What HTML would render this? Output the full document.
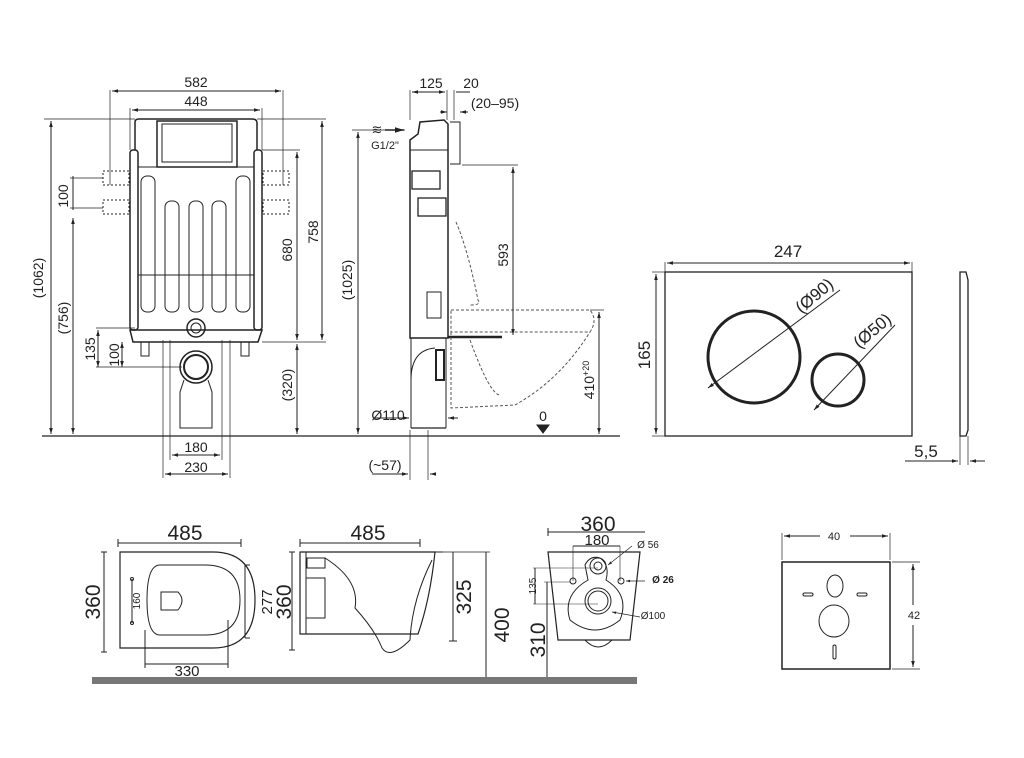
<!DOCTYPE html>
<html><head><meta charset="utf-8"><style>
html,body{margin:0;padding:0;background:#fff;}
svg{display:block;}
text{font-family:"Liberation Sans",sans-serif;fill:#222;}
</style></head><body>
<svg width="1024" height="758" viewBox="0 0 1024 758" xmlns="http://www.w3.org/2000/svg">
<defs>
<marker id="a" viewBox="0 0 10 10" refX="10" refY="5" markerWidth="6" markerHeight="6" orient="auto-start-reverse"><path d="M0,2 L10,5 L0,8z" fill="#222"/></marker>
</defs>
<g stroke="#222" fill="none" stroke-width="1">
<line x1="42" y1="436" x2="620" y2="436" stroke-width="1.3"/>

<path d="M135,150 L135,122 Q135,119 139,119 L252,119 Q257,119 257,123 L257,150" stroke-width="1.5"/>
<rect x="130" y="150" width="8" height="180" rx="3" stroke-width="1.5"/>
<rect x="254" y="150" width="8" height="180" rx="3" stroke-width="1.5"/>
<path d="M130,330 L262,330 L258,342 L133,342 Z" stroke-width="1.5"/>
<rect x="157" y="121" width="80" height="46" stroke-width="1.5"/>
<rect x="162" y="124" width="70" height="38"/>
<line x1="138" y1="167" x2="254" y2="167"/>
<rect x="141" y="176" width="14" height="136" rx="6"/>
<rect x="236" y="176" width="14" height="136" rx="6"/>
<rect x="165" y="201" width="14" height="111" rx="6"/>
<rect x="189" y="201" width="14" height="111" rx="6"/>
<rect x="212" y="201" width="14" height="111" rx="6"/>
<line x1="138" y1="275" x2="254" y2="275"/>
<rect x="141" y="342" width="8" height="14"/>
<rect x="241" y="342" width="8" height="14"/>
<circle cx="196" cy="328" r="9" stroke-width="1.5"/><circle cx="196" cy="328" r="5"/>
<circle cx="196" cy="367" r="16" stroke-width="1.5"/><circle cx="196" cy="367" r="12" stroke-width="2"/>
<path d="M184,380 L180,392 L180,428 L212,428 L212,392 L208,380"/>
<g stroke-dasharray="2,2">
<rect x="103" y="171" width="26" height="14"/><rect x="103" y="200" width="26" height="14"/>
<rect x="263" y="171" width="26" height="14"/><rect x="263" y="200" width="26" height="14"/>
</g>
<line x1="110" y1="90" x2="110" y2="185" stroke-width="0.7"/><line x1="283" y1="90" x2="283" y2="185" stroke-width="0.7"/>
<line x1="112" y1="91" x2="281" y2="91" marker-start="url(#a)" marker-end="url(#a)"/>
<line x1="130" y1="108" x2="130" y2="150" stroke-width="0.7"/><line x1="262" y1="108" x2="262" y2="150" stroke-width="0.7"/>
<line x1="132" y1="110" x2="260" y2="110" marker-start="url(#a)" marker-end="url(#a)"/>
<line x1="44" y1="119" x2="135" y2="119" stroke-width="0.7"/>
<line x1="51" y1="121" x2="51" y2="434" marker-start="url(#a)" marker-end="url(#a)"/>
<line x1="73" y1="218" x2="73" y2="434" marker-start="url(#a)" marker-end="url(#a)"/>
<line x1="73" y1="176" x2="73" y2="210"/>
<line x1="70" y1="178" x2="103" y2="178" stroke-width="0.7"/><line x1="70" y1="208" x2="103" y2="208" stroke-width="0.7"/>
<line x1="98" y1="330" x2="98" y2="367" marker-start="url(#a)" marker-end="url(#a)"/>
<line x1="122" y1="342" x2="122" y2="367" marker-start="url(#a)" marker-end="url(#a)"/>
<line x1="96" y1="328" x2="135" y2="328" stroke-width="0.7"/><line x1="96" y1="367" x2="182" y2="367" stroke-width="0.7"/>
<line x1="262" y1="150" x2="300" y2="150" stroke-width="0.7"/><line x1="257" y1="119" x2="326" y2="119" stroke-width="0.7"/>
<line x1="262" y1="342" x2="326" y2="342" stroke-width="0.7"/>
<line x1="297" y1="152" x2="297" y2="340" marker-start="url(#a)" marker-end="url(#a)"/>
<line x1="322" y1="121" x2="322" y2="340" marker-start="url(#a)" marker-end="url(#a)"/>
<line x1="297" y1="344" x2="297" y2="434" marker-start="url(#a)" marker-end="url(#a)"/>
<line x1="170" y1="340" x2="170" y2="460" stroke-width="0.7"/><line x1="222" y1="340" x2="222" y2="460" stroke-width="0.7"/>
<line x1="163" y1="340" x2="163" y2="478" stroke-width="0.7"/><line x1="230" y1="340" x2="230" y2="478" stroke-width="0.7"/>
<line x1="172" y1="455" x2="220" y2="455" marker-start="url(#a)" marker-end="url(#a)"/>
<line x1="165" y1="474" x2="228" y2="474" marker-start="url(#a)" marker-end="url(#a)"/>

<line x1="358" y1="132" x2="358" y2="434" marker-start="url(#a)" marker-end="url(#a)"/>
<line x1="352" y1="130" x2="405" y2="130" stroke-width="0.7"/>
<path d="M410,150 L410,140 L418,134 L420,122 L444,120 L448,124 L448,338 L410,338 Z" stroke-width="1.5"/>
<line x1="410" y1="150" x2="448" y2="150"/>
<rect x="412" y="171" width="28" height="18" stroke-width="1.3"/>
<rect x="418" y="198" width="28" height="18" stroke-width="1.3"/>
<rect x="427" y="292" width="14" height="26"/>
<path d="M450,122 L460,122 L460,164 L450,164" />
<line x1="411" y1="338" x2="411" y2="428"/><line x1="446" y1="338" x2="446" y2="428"/>
<path d="M411,380 Q411,350 435,348"/>
<rect x="436" y="350" width="8" height="30" stroke-width="2"/>
<line x1="411" y1="428" x2="446" y2="428" stroke-width="1.3"/>
<line x1="448" y1="337" x2="502" y2="337" stroke-width="2.5"/>
<g stroke-dasharray="3,2" stroke="#555">
<path d="M456,222 Q468,250 478,300 Q482,305 470,305"/>
<path d="M451,310 L590,310 Q598,320 590,332 L451,332 Z"/>
<path d="M451,332 L451,408 L515,405 Q560,380 590,332"/>
<path d="M470,340 Q490,395 500,395"/>
</g>
<line x1="462" y1="165" x2="518" y2="165" stroke-width="0.7"/>
<line x1="513" y1="167" x2="513" y2="335" marker-start="url(#a)" marker-end="url(#a)"/>
<line x1="590" y1="310" x2="604" y2="310" stroke-width="0.7"/>
<line x1="599" y1="312" x2="599" y2="434" marker-start="url(#a)" marker-end="url(#a)"/>
<line x1="410" y1="90" x2="410" y2="120" stroke-width="0.7"/><line x1="447" y1="90" x2="447" y2="120" stroke-width="0.7"/><line x1="454" y1="90" x2="454" y2="120" stroke-width="0.7"/>
<line x1="412" y1="92" x2="445" y2="92" marker-start="url(#a)" marker-end="url(#a)"/>
<line x1="456" y1="92" x2="470" y2="92" />
<line x1="440" y1="112" x2="447" y2="112" marker-end="url(#a)"/>
<line x1="460" y1="112" x2="468" y2="112" marker-start="url(#a)"/>
<line x1="385" y1="130" x2="404" y2="130" marker-end="url(#a)" stroke-width="1.5"/>
<line x1="375" y1="418" x2="409" y2="418" marker-end="url(#a)"/>
<line x1="448" y1="418" x2="458" y2="418" marker-start="url(#a)"/>
<line x1="410" y1="430" x2="410" y2="480" stroke-width="0.7"/><line x1="428" y1="430" x2="428" y2="480" stroke-width="0.7"/>
<line x1="372" y1="474" x2="408" y2="474" marker-end="url(#a)"/>
<line x1="430" y1="474" x2="436" y2="474" marker-start="url(#a)"/>
<path d="M537,425 L549,425 L543,433 Z" fill="#222"/>

<rect x="665" y="272" width="247" height="164" stroke-width="1.3"/>
<circle cx="754" cy="357" r="46" stroke-width="3"/>
<circle cx="838" cy="380" r="26" stroke-width="3"/>
<line x1="708" y1="388" x2="840" y2="290" marker-start="url(#a)"/>
<line x1="814" y1="410" x2="895" y2="325" marker-start="url(#a)"/>
<line x1="665" y1="262" x2="665" y2="272" stroke-width="0.7"/><line x1="912" y1="262" x2="912" y2="272" stroke-width="0.7"/>
<line x1="667" y1="263" x2="910" y2="263" marker-start="url(#a)" marker-end="url(#a)"/>
<line x1="652" y1="272" x2="665" y2="272" stroke-width="0.7"/><line x1="652" y1="436" x2="665" y2="436" stroke-width="0.7"/>
<line x1="656" y1="274" x2="656" y2="434" marker-start="url(#a)" marker-end="url(#a)"/>
<path d="M960,272 L966,272 L968,280 L968,430 L966,436 L960,436 Z" stroke-width="1.3"/>
<line x1="960" y1="436" x2="960" y2="465" stroke-width="0.7"/><line x1="968" y1="436" x2="968" y2="465" stroke-width="0.7"/>
<line x1="905" y1="461" x2="958" y2="461" marker-end="url(#a)"/>
<line x1="970" y1="461" x2="985" y2="461" marker-start="url(#a)"/>

<path d="M120,552 L213,552 Q255,552 255,600 Q255,648 213,648 L120,648 Z" stroke-width="1.2"/>
<path d="M160,565 L205,565 Q240,565 240,600 Q240,635 205,635 L160,635 Q147,635 147,600 Q147,565 160,565 Z"/>
<path d="M161,592 L178,592 Q186,600 178,610 L161,610 Z"/>
<line x1="132" y1="579" x2="132" y2="623"/><circle cx="132" cy="579" r="1.5"/><circle cx="132" cy="623" r="1.5"/>
<line x1="118" y1="543" x2="241" y2="543"/><line x1="118" y1="539" x2="118" y2="547"/><line x1="241" y1="539" x2="241" y2="547"/>
<line x1="104" y1="552" x2="104" y2="652"/><line x1="101" y1="552" x2="107" y2="552"/><line x1="101" y1="652" x2="107" y2="652"/>
<line x1="245" y1="565" x2="250" y2="565"/><line x1="245" y1="638" x2="250" y2="638"/><line x1="245" y1="565" x2="245" y2="638"/>
<line x1="145" y1="664" x2="228" y2="664"/><line x1="145" y1="630" x2="145" y2="668"/><line x1="228" y1="620" x2="228" y2="668"/>

<path d="M300,552 L435,552 Q430,600 418,634 L300,634 Z" stroke-width="1.2"/>
<path d="M306,552 L306,634 M306,552 L443,552" />
<rect x="307" y="558" width="18" height="10"/>
<path d="M325,558 Q360,580 355,608 Q375,630 382,648 Q390,660 410,640 Q412,600 432,560"/>
<path d="M306,578 L325,578 L325,618 L306,618"/>
<line x1="300" y1="543" x2="420" y2="543"/><line x1="300" y1="539" x2="300" y2="547"/><line x1="420" y1="539" x2="420" y2="547"/>
<line x1="292" y1="552" x2="292" y2="650"/><line x1="289" y1="552" x2="295" y2="552"/><line x1="289" y1="650" x2="295" y2="650"/>
<line x1="443" y1="552" x2="490" y2="552" stroke-width="0.7"/><line x1="453" y1="552" x2="453" y2="641"/><line x1="449" y1="641" x2="457" y2="641"/>
<line x1="486" y1="552" x2="486" y2="678"/>

<path d="M548,552 L640,552 L630,640 L558,640 Z" stroke-width="1.2"/>
<path d="M585,565 Q590,555 600,558 Q610,565 606,580 Q630,595 620,620 Q595,640 570,620 Q562,595 588,580 Z"/>
<circle cx="598" cy="566" r="8"/><circle cx="598" cy="566" r="4"/>
<circle cx="598" cy="601" r="13"/><circle cx="598" cy="601" r="10"/>
<circle cx="573" cy="581" r="3"/><circle cx="621" cy="581" r="3"/>
<path d="M585,640 Q598,654 612,640"/>
<line x1="548" y1="532" x2="645" y2="532"/><line x1="548" y1="528" x2="548" y2="536"/>
<line x1="573" y1="546" x2="620" y2="546"/><line x1="573" y1="546" x2="573" y2="581" stroke-width="0.6"/><line x1="620" y1="546" x2="620" y2="581" stroke-width="0.6"/>
<line x1="533" y1="568" x2="598" y2="568" stroke-width="0.6"/><line x1="533" y1="604" x2="598" y2="604" stroke-width="0.6"/>
<line x1="535" y1="568" x2="535" y2="604"/>
<line x1="544" y1="582" x2="570" y2="582" stroke-width="0.6"/><line x1="547" y1="582" x2="547" y2="678"/>
<line x1="608" y1="565" x2="632" y2="546" marker-start="url(#a)" stroke-width="0.7"/>
<line x1="626" y1="581" x2="645" y2="581" marker-start="url(#a)" stroke-width="0.7"/>
<line x1="612" y1="612" x2="640" y2="617" marker-start="url(#a)" stroke-width="0.7"/>

<rect x="782" y="562" width="108" height="107" stroke-width="1.5"/>
<ellipse cx="835" cy="586" rx="8" ry="11"/>
<ellipse cx="834" cy="621" rx="15" ry="16"/>
<rect x="803" y="593" width="10" height="3" rx="1.5"/><rect x="857" y="593" width="10" height="3" rx="1.5"/>
<rect x="833" y="645" width="3" height="14" rx="1.5"/>
<line x1="782" y1="533" x2="782" y2="560" stroke-width="0.7"/><line x1="890" y1="533" x2="890" y2="560" stroke-width="0.7"/>
<line x1="784" y1="536" x2="820" y2="536" marker-start="url(#a)"/>
<line x1="850" y1="536" x2="888" y2="536" marker-end="url(#a)"/>
<line x1="892" y1="562" x2="920" y2="562" stroke-width="0.7"/><line x1="892" y1="669" x2="920" y2="669" stroke-width="0.7"/>
<line x1="913" y1="564" x2="913" y2="605" marker-start="url(#a)"/>
<line x1="913" y1="625" x2="913" y2="667" marker-end="url(#a)"/>
</g>
<rect x="92" y="677" width="545" height="7" fill="#777"/>

<g font-size="14" text-anchor="middle">
<text x="196" y="87">582</text>
<text x="196" y="106">448</text>
<text transform="translate(43,278) rotate(-90)">(1062)</text>
<text transform="translate(68,318) rotate(-90)">(756)</text>
<text transform="translate(68,196) rotate(-90)">100</text>
<text transform="translate(95,349) rotate(-90)">135</text>
<text transform="translate(119,355) rotate(-90)">100</text>
<text transform="translate(292,250) rotate(-90)">680</text>
<text transform="translate(318,232) rotate(-90)">758</text>
<text transform="translate(292,385) rotate(-90)">(320)</text>
<text transform="translate(352,280) rotate(-90)">(1025)</text>
<text x="196" y="452">180</text>
<text x="196" y="472">230</text>
<text x="431" y="88">125</text>
<text x="471" y="88">20</text>
<text x="495" y="108">(20–95)</text>
<text x="385" y="149" font-size="11">G1/2"</text>
<text x="377" y="134" font-size="13">≋</text>
<text transform="translate(508,255) rotate(-90)">593</text>
<text transform="translate(594,380) rotate(-90)">410<tspan font-size="9" dy="-5">+20</tspan></text>
<text x="543" y="421">0</text>
<text x="388" y="420">Ø110</text>
<text x="385" y="470">(~57)</text>
</g>
<g font-size="17" text-anchor="middle">
<text x="788" y="257">247</text>
<text transform="translate(650,355) rotate(-90)">165</text>
<text transform="translate(818,300) rotate(-40)">(Ø90)</text>
<text transform="translate(876,335) rotate(-40)">(Ø50)</text>
<text x="926" y="457">5,5</text>
</g>
<g font-size="21" text-anchor="middle">
<text x="185" y="540">485</text>
<text x="368" y="540">485</text>
<text x="598" y="531">360</text>
<text transform="translate(100,602) rotate(-90)">360</text>
<text transform="translate(291,602) rotate(-90)">360</text>
<text transform="translate(471,597) rotate(-90)">325</text>
<text transform="translate(509,625) rotate(-90)">400</text>
<text transform="translate(545,640) rotate(-90)">310</text>
</g>
<g font-size="15" text-anchor="middle">
<text transform="translate(272,602) rotate(-90)">277</text>
<text x="187" y="676">330</text>
<text x="597" y="545">180</text>
</g>
<g font-size="10" text-anchor="middle">
<text transform="translate(140,601) rotate(-90)">160</text>
<text transform="translate(536,586) rotate(-90)">135</text>
<text x="648" y="548">Ø 56</text>
<text x="663" y="583" font-weight="bold">Ø 26</text>
<text x="653" y="619">Ø100</text>
<text x="834" y="540" font-size="11">40</text>
<text x="914" y="619" font-size="11">42</text>
</g>
</svg>
</body></html>
